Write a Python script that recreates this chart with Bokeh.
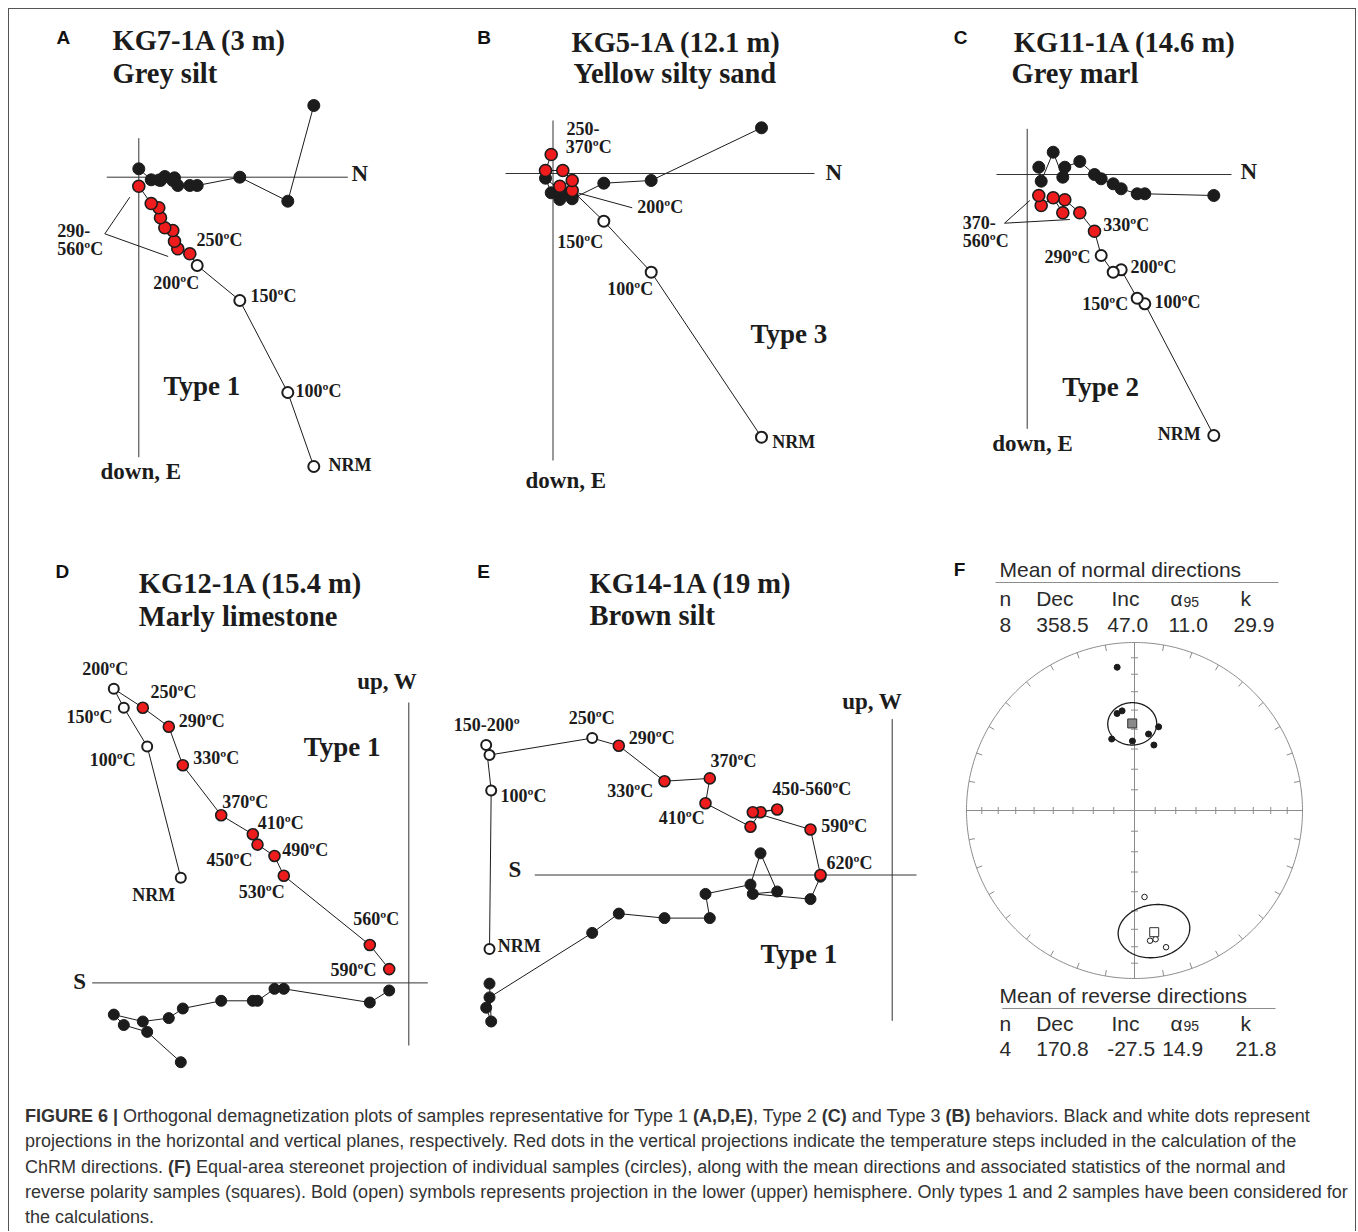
import numpy as np
from bokeh.plotting import figure
from bokeh.models import Range1d, Div
from bokeh.layouts import row, column
from bokeh.core.properties import value
from bokeh.embed import file_html
from bokeh.resources import INLINE

# ------------------------------------------------------------------ data
# Orthogonal (Zijderveld) projections, arbitrary magnetisation units.
# Panels A-C: N on the horizontal axis, E (horizontal proj.) and Down (vertical proj.) downwards
A_N = [175.0, 149.0, 101.0, 58.4, 51.0, 39.0, 35.7, 34.0, 26.0, 21.7, 20.0, 12.4, 0.0]
A_E = [-71.7, 24.0, 0.0, 8.3, 8.3, 8.3, 0.6, 3.3, -0.7, 3.3, 2.8, 2.6, -8.4]
A_Z = [289.3, 215.3, 123.3, 88.3, 76.6, 71.6, 64.0, 53.3, 50.6, 40.6, 30.6, 26.3, 9.0]
A_FIT = [False] * 4 + [True] * 9

B_N = [208.5, 98.2, 50.8, 19.2, 6.8, 19.2, 9.8, -7.5, -1.8]
B_E = [-45.7, 7.0, 9.7, 25.3, 26.0, 22.0, 19.0, 4.7, 19.3]
B_Z = [263.7, 98.7, 47.7, 17.0, 12.7, 7.0, -3.0, -3.0, -19.0]
B_FIT = [False] * 3 + [True] * 6

C_N = [186.6, 117.6, 110.0, 94.0, 86.0, 74.0, 67.3, 52.6, 37.6, 35.6, 26.0, 14.0, 11.6]
C_E = [21.0, 19.3, 19.3, 14.3, 9.3, 4.3, 0.0, -13.0, -7.3, 2.7, -22.3, 6.7, -7.3]
C_Z = [261.0, 129.3, 123.7, 95.3, 97.7, 81.0, 56.7, 38.3, 25.3, 38.3, 23.3, 31.0, 21.0]
C_FIT = [False] * 6 + [True] * 7

# Panels D-E: N on the horizontal axis (negative = S), W (horizontal) and Up (vertical) upwards
D_N = [-228.0, -261.6, -285.0, -295.0, -266.0, -240.0, -226.0, -187.6, -156.0, -151.3, -134.3, -125.0, -39.0, -19.6]
D_W = [-79.3, -49.0, -42.1, -31.7, -38.6, -35.2, -25.6, -17.9, -17.9, -17.9, -5.9, -5.9, -19.6, -7.6]
D_U = [105.2, 236.5, 275.2, 294.1, 275.2, 256.2, 217.6, 167.6, 148.6, 138.3, 126.9, 107.2, 37.9, 13.8]
D_FIT = [False] * 4 + [True] * 10

E_N = [-402.7, -401.0, -406.0, -402.7, -300.0, -273.4, -227.7, -182.4, -186.7, -141.7, -131.7, -115.0, -139.4, -81.7, -71.7]
E_W = [-108.6, -146.5, -132.7, -122.4, -57.9, -38.6, -43.1, -43.1, -18.9, -9.6, 21.7, -16.5, -18.9, -24.1, -1.7]
E_U = [-74.1, 84.5, 130.0, 120.0, 136.9, 129.3, 93.8, 96.6, 71.7, 48.3, 62.8, 65.5, 62.8, 45.5, 0.0]
E_FIT = [False] * 5 + [True] * 10

# Panel F: ChRM directions (declination, inclination in degrees)
NORM_DEC = [353.1, 349.8, 352.9, 16.1, 10.4, 342.3, 358.3, 16.5]
NORM_INC = [15.2, 41.0, 40.0, 47.0, 51.8, 53.2, 56.0, 56.6]
REV_DEC = [173.4, 173.2, 170.7, 167.0]
REV_INC = [-47.0, -23.0, -23.4, -17.6]
STAT_HEAD = ["n", "Dec", "Inc", "α", "k"]
NORM_STATS = {"n": 8, "Dec": 358.5, "Inc": 47.0, "a95": 11.0, "k": 29.9}
REV_STATS = {"n": 4, "Dec": 170.8, "Inc": -27.5, "a95": 14.9, "k": 21.8}
NORM_ROW = ["8", "358.5", "47.0", "11.0", "29.9"]
REV_ROW = ["4", "170.8", "-27.5", "14.9", "21.8"]

CAPTION = [
    "<b>FIGURE 6 |</b> Orthogonal demagnetization plots of samples representative for Type 1 <b>(A,D,E)</b>, Type 2 <b>(C)</b> and Type 3 <b>(B)</b> behaviors. Black and white dots represent",
    "projections in the horizontal and vertical planes, respectively. Red dots in the vertical projections indicate the temperature steps included in the calculation of the",
    "ChRM directions. <b>(F)</b> Equal-area stereonet projection of individual samples (circles), along with the mean directions and associated statistics of the normal and",
    "reverse polarity samples (squares). Bold (open) symbols represents projection in the lower (upper) hemisphere. Only types 1 and 2 samples have been considered for",
    "the calculations.",
]

# ------------------------------------------------------------------ style
RED = "#ee1c1c"
INK = "#1c1c1c"
GREY = "#8c8c8c"
SERIF = "Liberation Serif"
SANS = "Liberation Sans"


class Panel:
    def __init__(self, left, top, width, height, ox, oy, down):
        self.ox, self.oy, self.down = ox, oy, down
        if down:
            yr = Range1d(top + height - oy, top - oy)
        else:
            yr = Range1d(oy - (top + height), oy - top)
        self.p = figure(width=width, height=height,
                        x_range=Range1d(left - ox, left + width - ox), y_range=yr,
                        output_backend="svg", toolbar_location=None,
                        x_axis_location=None, y_axis_location=None,
                        min_border=0, outline_line_color=None)
        self.p.grid.visible = False
        self.p.background_fill_color = "white"
        self.p.border_fill_color = "white"

    def c(self, X, Y):
        return X - self.ox, (Y - self.oy) if self.down else (self.oy - Y)

    def text(self, X, Y, s, size, font=SERIF, style="bold", color=INK, align="left"):
        x, y = self.c(X, Y)
        self.p.text(x=[x], y=[y], text=[s], text_font=value(font), text_font_size=f"{size}px",
                    text_font_style=style, text_color=color, text_align=align,
                    text_baseline="middle")

    def poly(self, pts, color=INK, width=1.0):
        xs, ys = zip(*[self.c(X, Y) for X, Y in pts])
        self.p.line(list(xs), list(ys), line_color=color, line_width=width)

    def axes(self, h0, h1, v0, v1):
        self.p.segment(x0=[h0, 0], y0=[0, v0], x1=[h1, 0], y1=[0, v1],
                       line_color="#333333", line_width=1)

    def zij(self, x, h, v, fit, dot=12, ring=11):
        p = self.p
        p.line(x, h, line_color=INK, line_width=1)
        p.line(x, v, line_color=INK, line_width=1)
        p.scatter(x, h, size=dot, fill_color=INK, line_color=INK)
        xo = [a for a, f in zip(x, fit) if not f]
        vo = [b for b, f in zip(v, fit) if not f]
        xr = [a for a, f in zip(x, fit) if f]
        vr = [b for b, f in zip(v, fit) if f]
        p.scatter(xo, vo, size=ring, fill_color="white", line_color=INK, line_width=2)
        p.scatter(xr, vr, size=ring + 1, fill_color=RED, line_color=INK, line_width=1.6)


def letter(panel, X, Y, s):
    panel.text(X, Y, s, 19, font=SANS, style="bold", color="#111111")


TSZ = 28.5  # panel title size

# ------------------------------------------------------------------ panel A
A = Panel(9, 9, 451, 531, 138.3, 176.7, True)
A.axes(-32, 209, -39, 280)
A.zij(A_N, A_E, A_Z, A_FIT)
letter(A, 56, 37, "A")
A.text(112, 40, "KG7-1A (3 m)", TSZ)
A.text(112, 73, "Grey silt", TSZ)
A.text(351, 173, "N", 23)
A.text(100, 471, "down, E", 23)
A.text(163, 385, "Type 1", 27)
for s, X, Y in [("250ºC", 196, 239), ("200ºC", 152.7, 282.7), ("150ºC", 250, 295.7),
                ("100ºC", 295, 390.7), ("NRM", 328, 464), ("290-", 56.7, 230), ("560ºC", 56.7, 248.3)]:
    A.text(X, Y, s, 18)
A.poly([(129.3, 196.7), (104.3, 233.3), (167.7, 256)])

# ------------------------------------------------------------------ panel B
B = Panel(460, 9, 440, 531, 552.5, 173.0, True)
B.axes(-47.5, 261.5, -53, 287)
B.zij(B_N, B_E, B_Z, B_FIT)
letter(B, 476.7, 36.7, "B")
B.text(571, 41.7, "KG5-1A (12.1 m)", TSZ)
B.text(573, 73.3, "Yellow silty sand", TSZ)
B.text(825, 171.7, "N", 23)
B.text(525, 480, "down, E", 23)
B.text(750, 333, "Type 3", 27)
for s, X, Y in [("250-", 566, 128.3), ("370ºC", 565.3, 146.7), ("200ºC", 636.7, 206.7),
                ("150ºC", 556.7, 241.7), ("100ºC", 606.7, 288.3), ("NRM", 771.7, 441.7)]:
    B.text(X, Y, s, 18)
B.poly([(578.3, 192.7), (631.7, 207.3)])

# ------------------------------------------------------------------ panel C
C = Panel(900, 9, 455, 531, 1026.7, 174.0, True)
C.axes(-30.7, 204.3, -45.7, 254.3)
C.zij(C_N, C_E, C_Z, C_FIT)
letter(C, 953.3, 37.3, "C")
C.text(1013.3, 41.7, "KG11-1A (14.6 m)", TSZ)
C.text(1011, 73.3, "Grey marl", TSZ)
C.text(1240, 170.7, "N", 23)
C.text(991.7, 443.3, "down, E", 23)
C.text(1061.7, 386.7, "Type 2", 27)
for s, X, Y in [("330ºC", 1102.7, 224), ("290ºC", 1044, 256.7), ("200ºC", 1130, 266.7),
                ("150ºC", 1081.7, 303.3), ("100ºC", 1154, 301.7), ("NRM", 1157.3, 433.3),
                ("370-", 962.3, 221.7), ("560ºC", 962.3, 240.7)]:
    C.text(X, Y, s, 18)
C.poly([(1029.3, 200), (1004, 222.7), (1069.3, 219)])

# ------------------------------------------------------------------ panel D
D = Panel(9, 540, 431, 545, 408.3, 982.4, False)
D.axes(-316.6, 19, -62.6, 280.4)
D.zij(D_N, D_W, D_U, D_FIT, dot=11, ring=10)
letter(D, 55, 571, "D")
D.text(138.3, 583, "KG12-1A (15.4 m)", TSZ)
D.text(138.3, 615.9, "Marly limestone", TSZ)
D.text(72.7, 980.7, "S", 23)
D.text(356.7, 681.4, "up, W", 23)
D.text(303.3, 746.9, "Type 1", 27)
for s, X, Y in [("200ºC", 81.7, 668.3), ("150ºC", 66, 716.6), ("100ºC", 89.3, 759),
                ("250ºC", 150, 691.7), ("290ºC", 178.3, 720), ("330ºC", 192.7, 757.2),
                ("370ºC", 221.7, 801), ("410ºC", 257.3, 822.8), ("450ºC", 206, 859),
                ("490ºC", 281.7, 849.3), ("530ºC", 238.3, 891.7), ("560ºC", 352.7, 918.6),
                ("590ºC", 330, 969.3), ("NRM", 131.7, 894.5)]:
    D.text(X, Y, s, 18)

# ------------------------------------------------------------------ panel E
E = Panel(440, 540, 500, 545, 891.7, 874.5, False)
E.axes(-357.4, 24.3, -145.8, 155.9)
E.zij(E_N, E_W, E_U, E_FIT, dot=11, ring=10)
letter(E, 476.7, 571, "E")
E.text(589, 583, "KG14-1A (19 m)", TSZ)
E.text(589, 615.2, "Brown silt", TSZ)
E.text(508, 869.3, "S", 23)
E.text(841.7, 701.4, "up, W", 23)
E.text(760, 953.8, "Type 1", 27)
for s, X, Y in [("150-200º", 453.3, 724.5), ("250ºC", 568.3, 717.6), ("290ºC", 628.3, 737.2),
                ("330ºC", 606.7, 790), ("370ºC", 710, 760.7), ("410ºC", 658.3, 817.6),
                ("450-560ºC", 771.7, 788.3), ("590ºC", 820.7, 825.5), ("620ºC", 826, 862.4),
                ("100ºC", 500, 795.2), ("NRM", 497.3, 945.2)]:
    E.text(X, Y, s, 18)

# ------------------------------------------------------------------ panel F (equal-area net)
CX, CY, R = 1134.0, 810.0, 168.0
fL, fT, fW, fH = 940, 540, 415, 545
pF = figure(width=fW, height=fH,
            x_range=Range1d((fL - CX) / R, (fL + fW - CX) / R),
            y_range=Range1d((CY - (fT + fH)) / R, (CY - fT) / R),
            output_backend="svg", toolbar_location=None,
            x_axis_location=None, y_axis_location=None,
            min_border=0, outline_line_color=None)
pF.grid.visible = False


def fc(X, Y):
    return (X - CX) / R, (CY - Y) / R


def ea(dec, inc):
    dec = np.radians(np.asarray(dec, float))
    inc = np.asarray(inc, float)
    r = np.sqrt(2.0) * np.sin(np.radians(90.0 - np.abs(inc)) / 2.0)
    return r * np.sin(dec), r * np.cos(dec)


def cone(dec, inc, a95, n=241):
    d, i = np.radians(dec), np.radians(inc)
    m = np.array([np.cos(i) * np.cos(d), np.cos(i) * np.sin(d), np.sin(i)])
    u = np.array([-np.sin(i) * np.cos(d), -np.sin(i) * np.sin(d), np.cos(i)])
    v = np.cross(m, u)
    t = np.linspace(0, 2 * np.pi, n)
    a = np.radians(a95)
    pts = np.cos(a) * m[:, None] + np.sin(a) * (np.cos(t) * u[:, None] + np.sin(t) * v[:, None])
    decs = np.degrees(np.arctan2(pts[1], pts[0]))
    incs = np.degrees(np.arcsin(np.clip(pts[2], -1, 1)))
    return ea(decs, incs)


t = np.linspace(0, 2 * np.pi, 361)
pF.line(np.cos(t), np.sin(t), line_color=GREY, line_width=1)
pF.segment(x0=[-1, 0], y0=[0, -1], x1=[1, 0], y1=[0, 1], line_color=GREY, line_width=1)
ang = np.radians(np.arange(0, 360, 10))
tk = 6 / R
pF.segment(x0=np.cos(ang), y0=np.sin(ang), x1=(1 - tk) * np.cos(ang), y1=(1 - tk) * np.sin(ang),
           line_color=GREY, line_width=1)
rr = np.sqrt(2.0) * np.sin(np.radians(90 - np.arange(10, 90, 10)) / 2.0)
h = 3.5 / R
for sgn in (1, -1):
    pF.segment(x0=-h, y0=sgn * rr, x1=h, y1=sgn * rr, line_color=GREY, line_width=1)
    pF.segment(x0=sgn * rr, y0=-h, x1=sgn * rr, y1=h, line_color=GREY, line_width=1)

nx, ny = ea(NORM_DEC, NORM_INC)
pF.scatter(nx, ny, size=6, fill_color=INK, line_color=INK)
cx, cy = cone(NORM_STATS["Dec"], NORM_STATS["Inc"], NORM_STATS["a95"])
pF.line(cx, cy, line_color=INK, line_width=1.3)
mx, my = ea([NORM_STATS["Dec"]], [NORM_STATS["Inc"]])
pF.scatter(mx, my, marker="square", size=9, fill_color="#8a8a8a", line_color="#333333", line_width=1)

rx, ry = ea(REV_DEC, REV_INC)
pF.scatter(rx, ry, size=5.5, fill_color="white", line_color=INK, line_width=1)
cx, cy = cone(REV_STATS["Dec"], REV_STATS["Inc"], REV_STATS["a95"])
pF.line(cx, cy, line_color=INK, line_width=1.3)
mx, my = ea([REV_STATS["Dec"]], [REV_STATS["Inc"]])
pF.scatter(mx, my, marker="square", size=9, fill_color="white", line_color="#333333", line_width=1)


def ftext(X, Y, s, size=21, style="normal", font=SANS, color="#2a2a2a"):
    x, y = fc(X, Y)
    pF.text(x=[x], y=[y], text=[s], text_font=value(font), text_font_size=f"{size}px",
            text_font_style=style, text_color=color, text_align="left", text_baseline="middle")


def fline(X0, X1, Y):
    (x0, y0), (x1, y1) = fc(X0, Y), fc(X1, Y)
    pF.line([x0, x1], [y0, y1], line_color=GREY, line_width=1)


ftext(953.3, 569.3, "F", 19, style="bold", color="#111111")
head_x = [999, 1035.7, 1111, 1170, 1240]
for title, ty, uy, hy, vy, vals, vx, ux in [
        ("Mean of normal directions", 569.3, 582, 598, 624, NORM_ROW,
         [999, 1035.7, 1106.7, 1168, 1233], (995, 1278)),
        ("Mean of reverse directions", 995, 1008, 1022.8, 1048.6, REV_ROW,
         [999, 1035.7, 1106.7, 1161.7, 1235], (1001.7, 1275))]:
    ftext(999, ty, title)
    fline(ux[0], ux[1], uy)
    for s, X in zip(STAT_HEAD, head_x):
        ftext(X, hy, s)
    ftext(1183, hy + 3, "95", 14)
    for s, X in zip(vals, vx):
        ftext(X, vy, s)

# ------------------------------------------------------------------ caption & layout
cap_html = ('<div style="font-family:\'Liberation Sans\',Arial,sans-serif;font-size:18px;'
            'line-height:25.3px;color:#333;padding:19px 0 0 16px;white-space:nowrap;">'
            + "<br>".join(CAPTION) + "</div>")
cap = Div(text=cap_html, width=1346, height=146, margin=0)

layout = column(row(A.p, B.p, C.p), row(D.p, E.p, pF), cap,
                margin=(8, 0, 0, 8),
                styles={"border-top": "1px solid #555", "border-left": "1px solid #555",
                        "border-right": "1px solid #555"})

open("out.html", "w").write(file_html(layout, INLINE))
